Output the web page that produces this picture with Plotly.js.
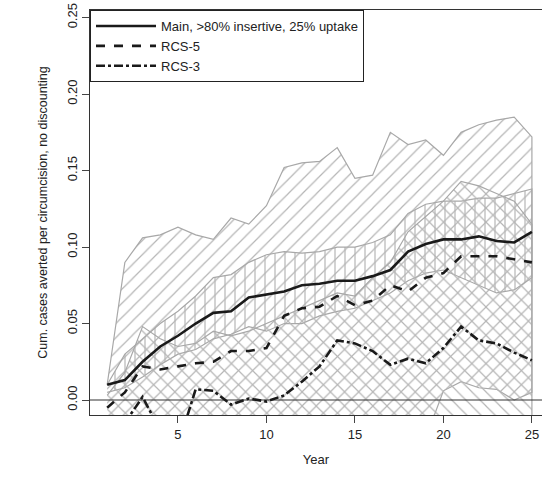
<!DOCTYPE html>
<html>
<head>
<meta charset="utf-8">
<script src="https://cdn.plot.ly/plotly-3.0.1.min.js"></script>
<style>body{margin:0;background:#fff}</style>
</head>
<body>
<div id="chart" style="width:542px;height:484px"></div>
<script>
var years = [1,2,3,4,5,6,7,8,9,10,11,12,13,14,15,16,17,18,19,20,21,22,23,24,25];

var mainMid = [0.010,0.013,0.025,0.035,0.042,0.050,0.057,0.058,0.067,0.069,0.071,0.075,0.076,0.078,0.078,0.081,0.085,0.097,0.102,0.105,0.105,0.107,0.104,0.103,0.110];
var mainHi  = [0.010,0.030,0.040,0.050,0.058,0.068,0.080,0.082,0.090,0.095,0.097,0.096,0.097,0.100,0.100,0.103,0.108,0.122,0.128,0.130,0.130,0.132,0.132,0.135,0.138];
var mainLo  = [0.005,0.008,0.015,0.023,0.030,0.033,0.040,0.043,0.048,0.045,0.050,0.050,0.055,0.058,0.060,0.065,0.070,0.078,0.083,0.085,0.080,0.075,0.070,0.072,0.080];

var rcs5Mid = [-0.005,0.005,0.022,0.020,0.022,0.024,0.025,0.032,0.032,0.034,0.055,0.060,0.061,0.068,0.062,0.065,0.075,0.071,0.080,0.083,0.094,0.094,0.094,0.092,0.090];
var rcs5Hi  = [0.010,0.090,0.106,0.108,0.113,0.108,0.105,0.119,0.115,0.127,0.152,0.155,0.156,0.165,0.145,0.147,0.175,0.167,0.170,0.160,0.175,0.180,0.183,0.185,0.172];
var rcs5Lo  = [-0.04,-0.04,-0.04,-0.04,-0.04,-0.04,-0.04,-0.04,-0.04,-0.04,-0.04,-0.04,-0.04,-0.04,-0.04,-0.04,-0.04,-0.04,-0.025,0.006,0.012,0.008,0.007,0.000,0.005];

var rcs3Mid = [-0.020,-0.015,0.002,-0.020,-0.030,0.007,0.006,-0.003,0.001,-0.001,0.003,0.012,0.022,0.039,0.037,0.032,0.023,0.027,0.024,0.034,0.048,0.039,0.037,0.031,0.026];
var rcs3Hi  = [0.003,0.018,0.048,0.040,0.035,0.037,0.045,0.042,0.045,0.050,0.055,0.060,0.065,0.070,0.068,0.080,0.090,0.110,0.120,0.130,0.143,0.140,0.135,0.130,0.115];
var rcs3Lo  = years.map(function () { return -0.05; });

function band(lo, hi, shape) {
  return {
    x: years.concat(years.slice().reverse()),
    y: hi.concat(lo.slice().reverse()),
    type: "scatter", mode: "lines", fill: "toself",
    fillcolor: "rgba(0,0,0,0)",
    fillpattern: {shape: shape, fgcolor: "#b5b5b5", bgcolor: "rgba(0,0,0,0)", size: 10, solidity: 0.12},
    line: {color: "#a8a8a8", width: 1.2},
    showlegend: false, hoverinfo: "skip"
  };
}

function mid(y, name, dash) {
  return {x: years, y: y, name: name, type: "scatter", mode: "lines",
          line: {color: "#1a1a1a", width: 2.6, dash: dash}};
}

var data = [
  band(rcs5Lo, rcs5Hi, "/"),
  band(mainLo, mainHi, "|"),
  band(rcs3Lo, rcs3Hi, "\\"),
  {x: [0, 30], y: [0, 0], type: "scatter", mode: "lines", line: {color: "#333", width: 1.2}, showlegend: false, hoverinfo: "skip"},
  mid(mainMid, "Main, >80% insertive, 25% uptake", "solid"),
  mid(rcs5Mid, "RCS-5", "dash"),
  mid(rcs3Mid, "RCS-3", "dashdot")
];

var layout = {
  width: 542, height: 484,
  margin: {l: 90, r: 0, t: 10, b: 69},
  paper_bgcolor: "#fff", plot_bgcolor: "#fff",
  font: {family: "Liberation Sans, Arial, sans-serif", size: 13, color: "#222"},
  showlegend: true,
  legend: {x: 0, y: 1, xanchor: "left", yanchor: "top", bgcolor: "#fff",
           bordercolor: "#222", borderwidth: 1, font: {size: 13}, itemwidth: 60,
           tracegroupgap: 0},
  xaxis: {range: [0.03, 25.57], tickvals: [5, 10, 15, 20, 25], ticks: "outside", ticklen: 7,
          showline: true, linecolor: "#333", mirror: true, showgrid: false, zeroline: false,
          title: {text: "Year", standoff: 14, font: {size: 13}}},
  yaxis: {range: [-0.0098, 0.255], tickvals: [0, 0.05, 0.1, 0.15, 0.2, 0.25],
          ticktext: ["0.00", "0.05", "0.10", "0.15", "0.20", "0.25"], tickangle: -90,
          ticks: "outside", ticklen: 7, showline: true, linecolor: "#333", mirror: true,
          showgrid: false, zeroline: false,
          title: {text: "Cum. cases averted per circumcision, no discounting", standoff: 14,
                  font: {size: 12.5}}}
};

Plotly.newPlot("chart", data, layout, {displayModeBar: false});
</script>
</body>
</html>
